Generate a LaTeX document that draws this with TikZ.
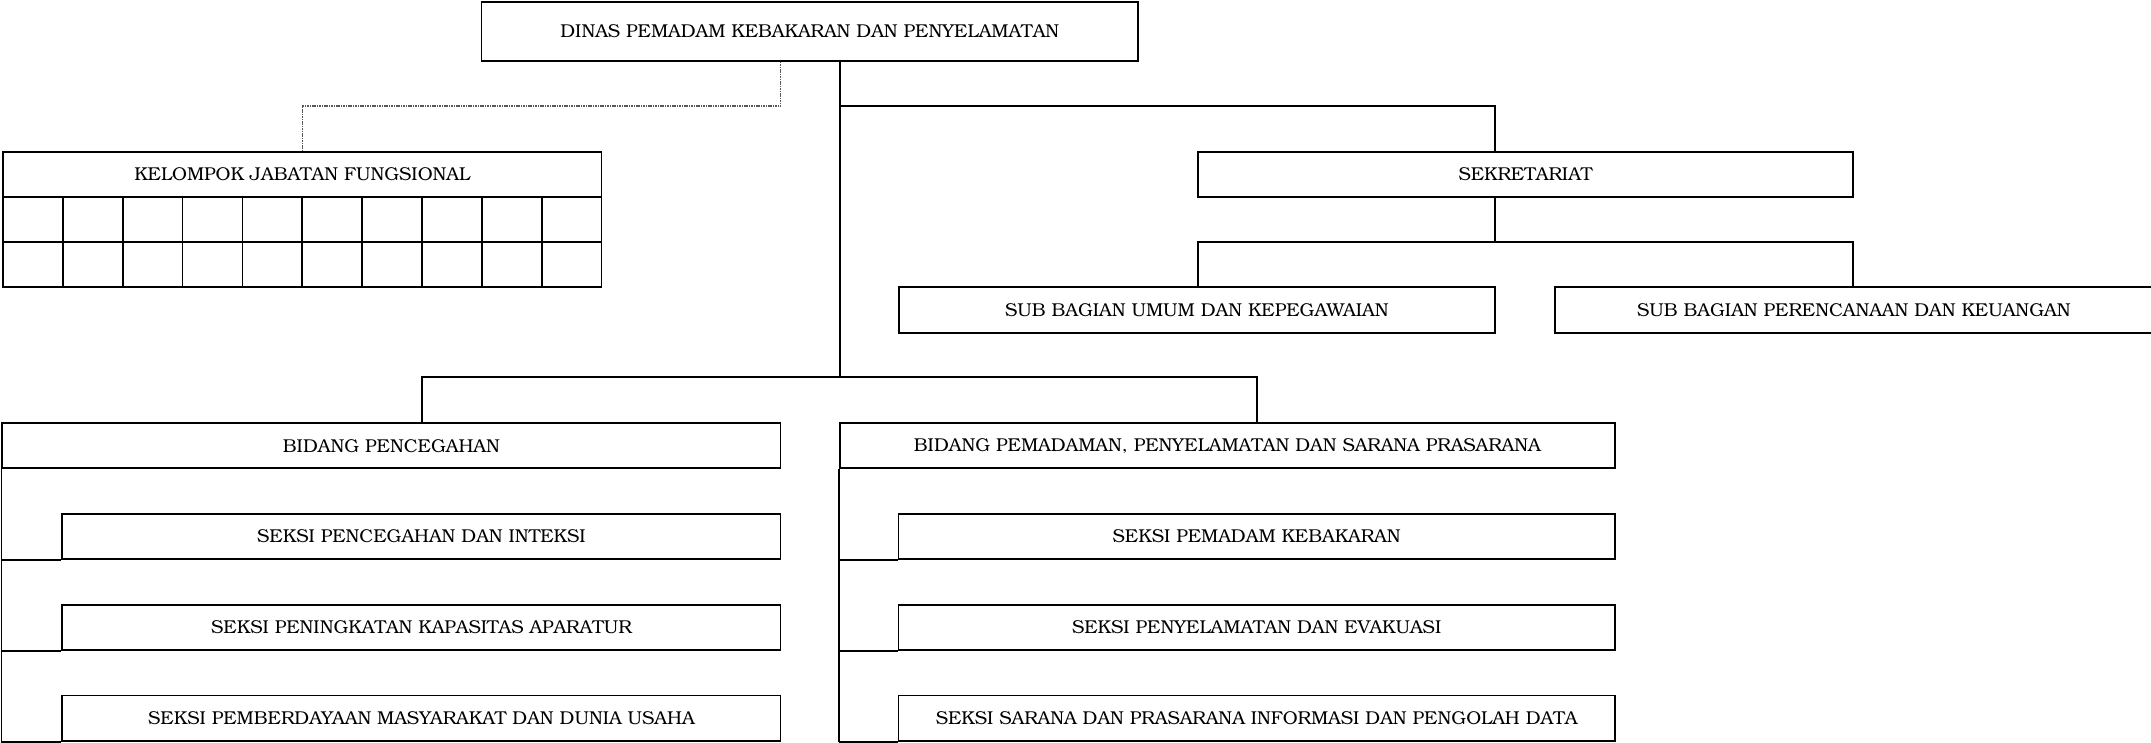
\documentclass[tikz,border=0pt]{standalone}
\usepackage[T1]{fontenc}
\usepackage{bookman}
\begin{document}
\begin{tikzpicture}[x=1pt,y=-1pt,
  unit/.style={draw, line width=1.7pt, rectangle, inner sep=0pt, fill=white,
    font=\fontsize{18.6}{22}\selectfont},
  cell/.style={draw, line width=1.7pt},
  link/.style={draw, line width=1.7pt},
  dashlink/.style={draw, gray!70!black, line width=1.1pt, dash pattern=on 1.6pt off 0.8pt}]
\useasboundingbox (0,0) rectangle (2151,743);

% head of office
\node[unit, minimum width=656.5pt, minimum height=59.3pt] (top) at (809.75,31.35)
  {DINAS PEMADAM KEBAKARAN DAN PENYELAMATAN};

% functional group with its table of cells
\node[unit, minimum width=598.5pt, minimum height=45pt] (kjf) at (302.25,174.2)
  {KELOMPOK JABATAN FUNGSIONAL};
\foreach \c in {0,...,9}{
  \foreach \r in {0,1}{
    \draw[cell] ({3+59.85*\c},{196.7+45.3*\r}) rectangle ++(59.85,45.3);
  }
}

% secretariat
\node[unit, minimum width=655pt, minimum height=45pt] (sek) at (1525.5,174.2) {SEKRETARIAT};
\node[unit, minimum width=595.7pt, minimum height=45.4pt] (subum) at (1196.85,310)
  {SUB BAGIAN UMUM DAN KEPEGAWAIAN};
\node[unit, minimum width=598.3pt, minimum height=45.4pt] (subper) at (1853.85,310)
  {SUB BAGIAN PERENCANAAN DAN KEUANGAN};

% fields and their sections
\node[unit, minimum width=778.4pt, minimum height=45pt] (bidp) at (391.4,445.8)
  {BIDANG PENCEGAHAN};
\node[unit, minimum width=718.3pt, minimum height=45.6pt] (p1) at (421.45,536.5)
  {SEKSI PENCEGAHAN DAN INTEKSI};
\node[unit, minimum width=718.3pt, minimum height=45.6pt] (p2) at (421.45,627.5)
  {SEKSI PENINGKATAN KAPASITAS APARATUR};
\node[unit, minimum width=718.3pt, minimum height=45.6pt] (p3) at (421.45,718.4)
  {SEKSI PEMBERDAYAAN MASYARAKAT DAN DUNIA USAHA};

\node[unit, minimum width=774.7pt, minimum height=45pt] (bidm) at (1227.35,445.8)
  {BIDANG PEMADAMAN, PENYELAMATAN DAN SARANA PRASARANA};
\node[unit, minimum width=716.1pt, minimum height=45.6pt] (m1) at (1256.65,536.5)
  {SEKSI PEMADAM KEBAKARAN};
\node[unit, minimum width=716.1pt, minimum height=45.6pt] (m2) at (1256.65,627.5)
  {SEKSI PENYELAMATAN DAN EVAKUASI};
\node[unit, minimum width=716.1pt, minimum height=45.6pt] (m3) at (1256.65,718.4)
  {SEKSI SARANA DAN PRASARANA INFORMASI DAN PENGOLAH DATA};

% junction points
\coordinate (hub) at (840,377.3);
\coordinate (sj) at (1494.7,106);
\coordinate (dj) at (780.6,106);
\coordinate (sb1) at (1198,241.7);
\coordinate (sb2) at (1853,241.7);
\coordinate (bl) at (421.7,377.3);
\coordinate (br) at (1256.9,377.3);

% connectors
\draw[link] (top.south -| hub) -- (hub);
\draw[link] (sj -| hub) -- (sj) -- (sj |- sek.north);
\draw[link] (sek.south -| sj) -- (sj |- sb1);
\draw[link] (sb1 |- subum.north) -- (sb1) -- (sb2) -- (sb2 |- subper.north);
\draw[dashlink] (top.south -| dj) -- (dj) -| (kjf.north);
\draw[link] (bl |- bidp.north) -- (bl) -- (br) -- (br |- bidm.north);

% rails down the left side of each field
\draw[link] (bidp.south west) -- (bidp.south west |- p3.south);
\foreach \s in {p1,p2,p3}{ \draw[link] (\s.south west -| bidp.west) -- (\s.south west); }
\draw[link] (bidm.south west) -- (bidm.south west |- m3.south);
\foreach \s in {m1,m2,m3}{ \draw[link] (\s.south west -| bidm.west) -- (\s.south west); }
\end{tikzpicture}
\end{document}
